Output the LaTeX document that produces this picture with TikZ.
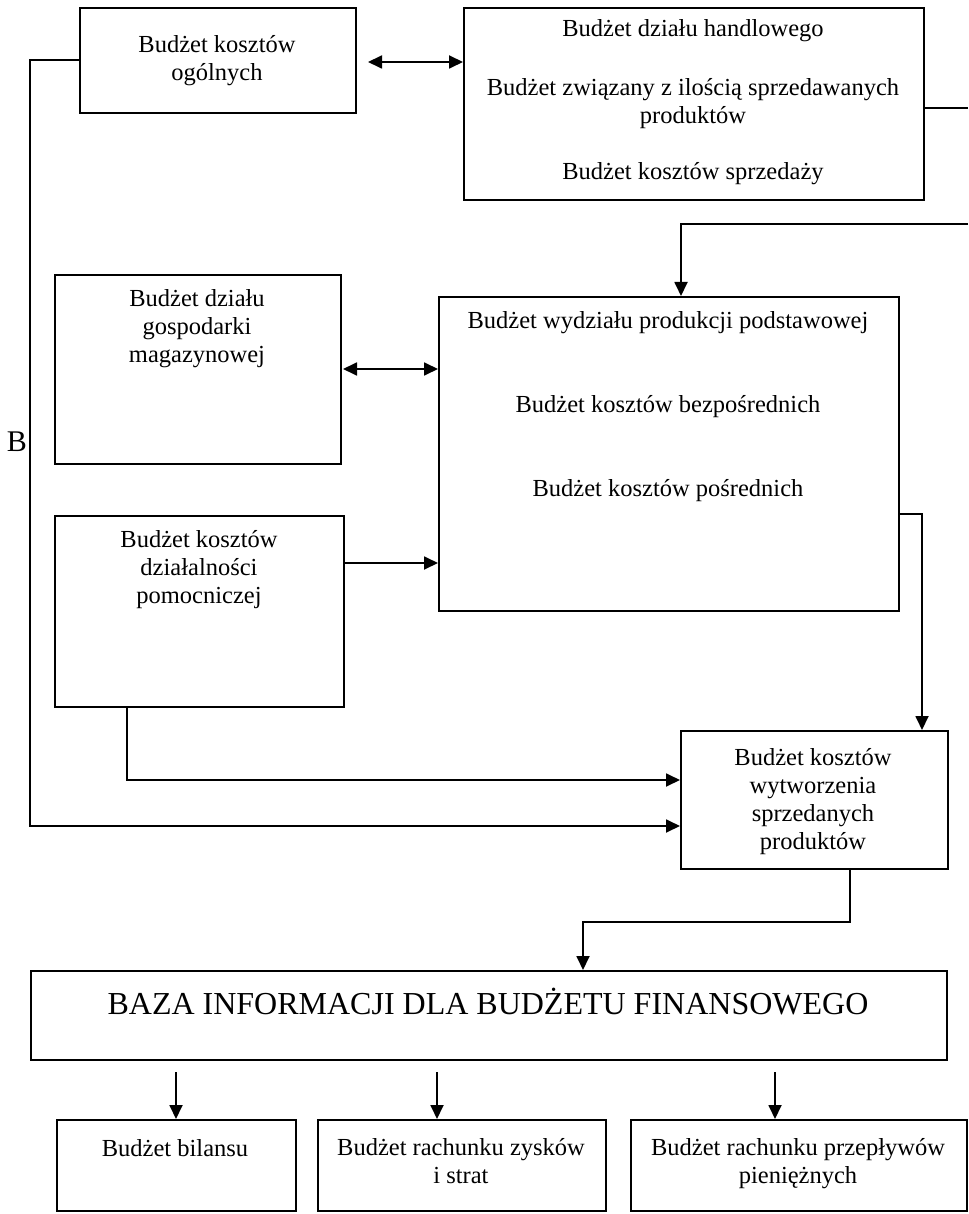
\documentclass[tikz,border=0pt]{standalone}
\usepackage{fontspec}
\setmainfont{Liberation Serif}
\usetikzlibrary{arrows.meta}
\begin{document}
\begin{tikzpicture}[x=1pt,y=-1pt,
  box/.style={draw, line width=1.8pt, inner sep=0pt, anchor=north west},
  txt/.style={align=center, inner sep=0pt, font=\fontsize{24.5}{28}\selectfont},
  ln/.style={line width=1.8pt},
  arr/.style={line width=1.8pt, -{Triangle[length=14pt,width=13pt]}},
  darr/.style={line width=1.8pt, {Triangle[length=14pt,width=13pt]}-{Triangle[length=14pt,width=13pt]}}]
\useasboundingbox (0,0) rectangle (968,1214);
% boxes
\node[box, minimum width=276pt, minimum height=105pt] (ogol) at (79,7) {};
\node[box, minimum width=460pt, minimum height=192pt] (handl) at (463,7) {};
\node[box, minimum width=460pt, minimum height=314pt] (prod) at (438,296) {};
\node[box, minimum width=286pt, minimum height=189pt] (mag) at (54,274) {};
\node[box, minimum width=289pt, minimum height=191pt] (pom) at (54,515) {};
\node[box, minimum width=267pt, minimum height=138pt] (wytw) at (680,730) {};
\node[box, minimum width=916pt, minimum height=89pt] (baza) at (30,970) {};
\node[box, minimum width=239pt, minimum height=91pt] (bil) at (56,1119) {};
\node[box, minimum width=288pt, minimum height=91pt] (rzis) at (317,1119) {};
\node[box, minimum width=336pt, minimum height=91pt] (rpp) at (630,1119) {};
% texts
\node[txt] (t1) at (217,60.5) {Budżet kosztów\\ogólnych};
\node[txt] (t2) at (693,102.5) {Budżet działu handlowego\\[31pt]Budżet związany z ilością sprzedawanych\\produktów\\[28pt]Budżet kosztów sprzedaży};
\node[txt] (t3) at (668,406.5) {Budżet wydziału produkcji podstawowej\\[56pt]Budżet kosztów bezpośrednich\\[56pt]Budżet kosztów pośrednich};
\node[txt] (t4) at (197,329) {Budżet działu\\gospodarki\\magazynowej};
\node[txt] (t5) at (199,570) {Budżet kosztów\\działalności\\pomocniczej};
\node[txt] (t6) at (813,801.5) {Budżet kosztów\\wytworzenia\\sprzedanych\\produktów};
\node[txt, font=\fontsize{32}{36}\selectfont] (t7) at (488,1002) {BAZA INFORMACJI DLA BUDŻETU FINANSOWEGO};
\node[txt] (t8) at (175,1148) {Budżet bilansu};
\node[txt] (t9) at (461,1161.5) {Budżet rachunku zysków\\i strat};
\node[txt] (t10) at (798,1164) {Budżet rachunku przepływów\\pieniężnych};
\node[txt, font=\fontsize{30}{34}\selectfont] (lb) at (17,442) {B};
% connectors
\coordinate (bl) at (30,826);
\draw[arr] (ogol.west) -| (bl) -- (bl -| wytw.west);
\draw[darr] (368,62) -- (handl.west |- 0,62);
\coordinate (rout) at (968,108);
\draw[ln] (handl.east |- rout) -- (rout);
\coordinate (rin) at (968,224);
\draw[arr] (rin) -| (prod.north -| 681,0);
\draw[darr] (343,369) -- (prod.west |- 0,369);
\draw[arr] (pom.east |- 0,563) -- (prod.west |- 0,563);
\draw[arr] (pom.south -| 127,0) |- (wytw.west |- 0,780);
\draw[arr] (prod.east |- 0,514) -| (wytw.north -| 922,0);
\coordinate (bend) at (583,922);
\draw[arr] (wytw.south -| 850,0) |- (bend) -- (baza.north -| bend);
\coordinate (a1) at (176,1072);
\coordinate (a2) at (437,1072);
\coordinate (a3) at (775,1072);
\draw[arr] (a1) -- (bil.north -| a1);
\draw[arr] (a2) -- (rzis.north -| a2);
\draw[arr] (a3) -- (rpp.north -| a3);
\end{tikzpicture}
\end{document}
